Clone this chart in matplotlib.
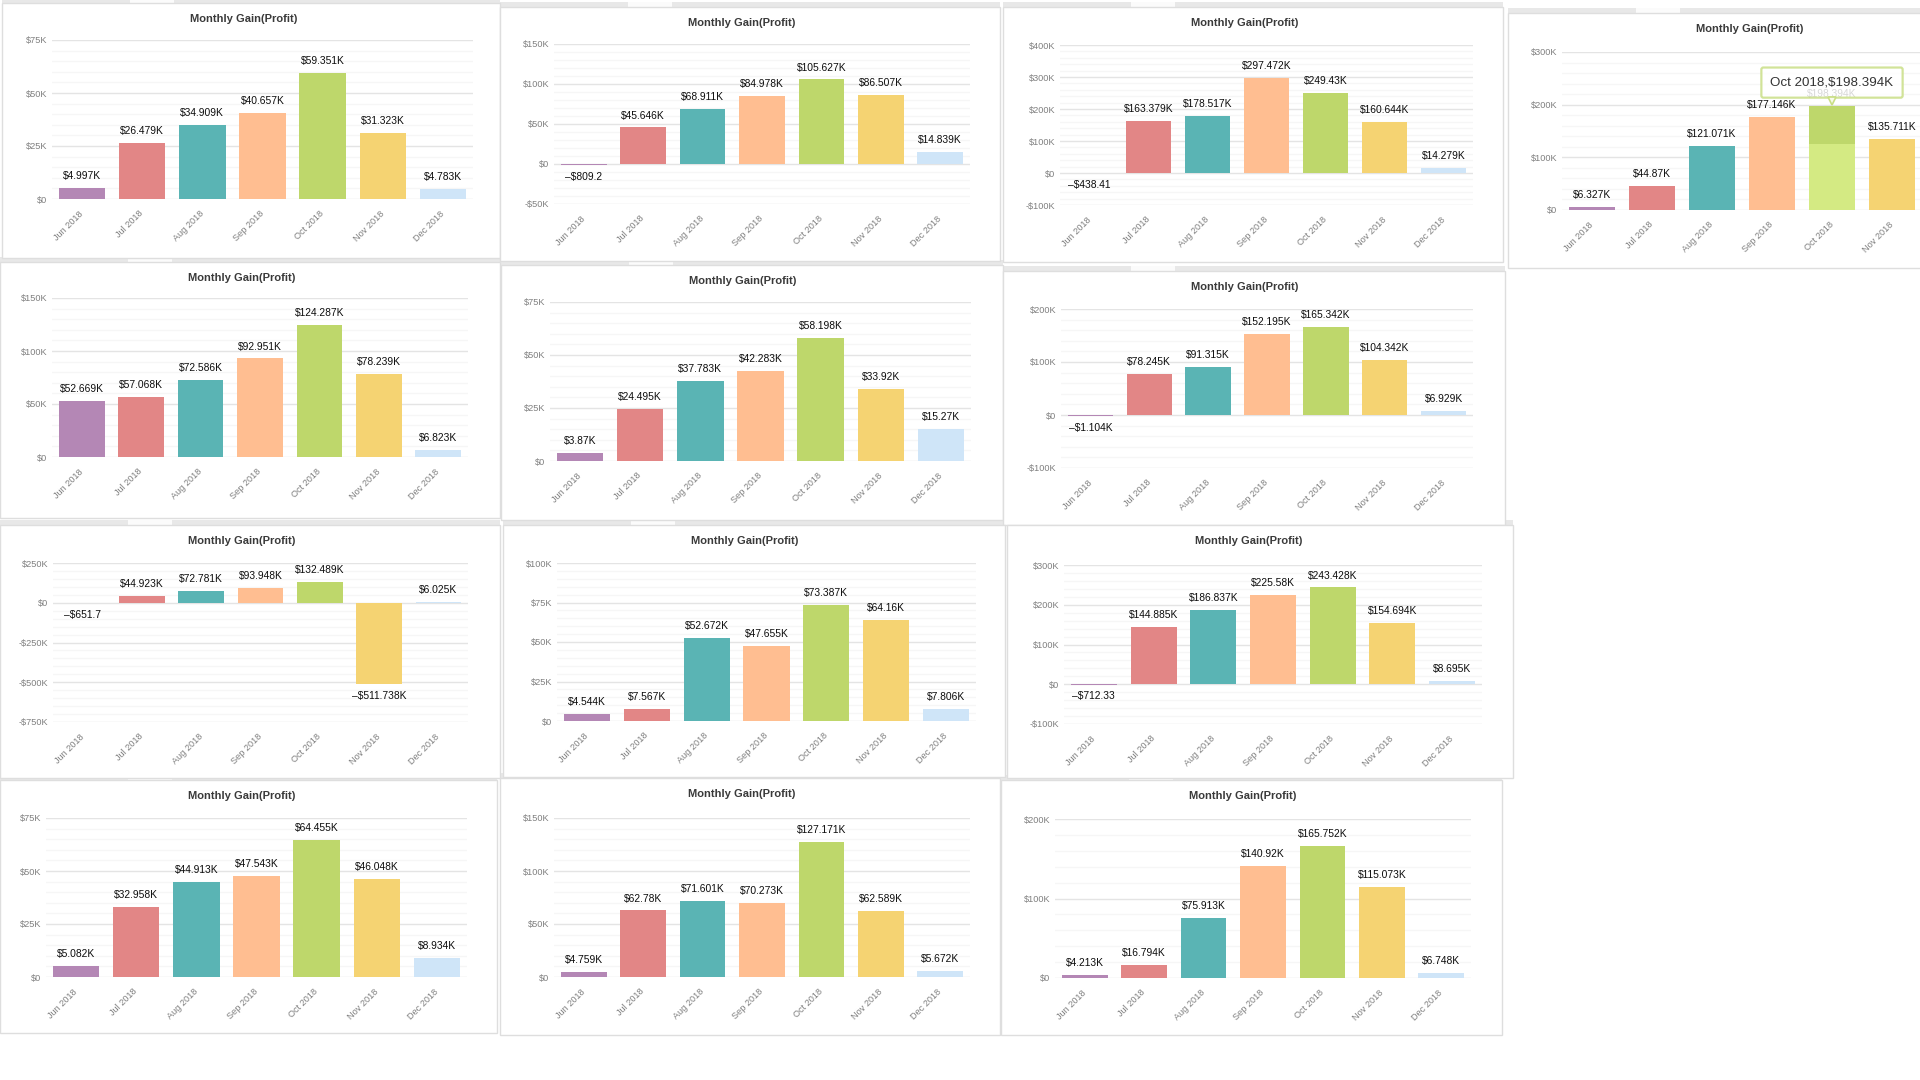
import matplotlib
matplotlib.use("Agg")
import matplotlib.pyplot as plt
from matplotlib.patches import Rectangle
import matplotlib.transforms as mtransforms

plt.rcParams['font.family'] = ['Liberation Sans', 'DejaVu Sans']

# ---------------- data ----------------
months = ["Jun 2018", "Jul 2018", "Aug 2018", "Sep 2018", "Oct 2018", "Nov 2018", "Dec 2018"]
bar_colors = ["#b487b5", "#e28686", "#5ab4b4", "#ffbe91", "#bed76b", "#f5d372", "#cfe5f8"]
chart_title = "Monthly Gain(Profit)"

p1_values = [4997, 26479, 34909, 40657, 59351, 31323, 4783]
p1_ticks = [0, 25000, 50000, 75000]
p2_values = [-809.2, 45646, 68911, 84978, 105627, 86507, 14839]
p2_ticks = [-50000, 0, 50000, 100000, 150000]
p3_values = [-438.41, 163379, 178517, 297472, 249430, 160644, 14279]
p3_ticks = [-100000, 0, 100000, 200000, 300000, 400000]
p4_values = [6327, 44870, 121071, 177146, 198394, 135711]   # Dec is cut off in the reference
p4_ticks = [0, 100000, 200000, 300000]
p5_values = [52669, 57068, 72586, 92951, 124287, 78239, 6823]
p5_ticks = [0, 50000, 100000, 150000]
p6_values = [3870, 24495, 37783, 42283, 58198, 33920, 15270]
p6_ticks = [0, 25000, 50000, 75000]
p7_values = [-1104, 78245, 91315, 152195, 165342, 104342, 6929]
p7_ticks = [-100000, 0, 100000, 200000]
p8_values = [-651.7, 44923, 72781, 93948, 132489, -511738, 6025]
p8_ticks = [-750000, -500000, -250000, 0, 250000]
p9_values = [4544, 7567, 52672, 47655, 73387, 64160, 7806]
p9_ticks = [0, 25000, 50000, 75000, 100000]
p10_values = [-712.33, 144885, 186837, 225580, 243428, 154694, 8695]
p10_ticks = [-100000, 0, 100000, 200000, 300000]
p11_values = [5082, 32958, 44913, 47543, 64455, 46048, 8934]
p11_ticks = [0, 25000, 50000, 75000]
p12_values = [4759, 62780, 71601, 70273, 127171, 62589, 5672]
p12_ticks = [0, 50000, 100000, 150000]
p13_values = [4213, 16794, 75913, 140920, 165752, 115073, 6748]
p13_ticks = [0, 100000, 200000]

tooltip_month = 4            # hovered bar in panel 4 (Oct 2018)
tooltip_hover_split = 125000 # lower part of the hovered bar is drawn in the highlight colour

# ---------------- layout (pixels, top-left origin) ----------------
W, H = 1920, 1080
# (panel box x0, y0, x1, y1), (plot area x0, y0, x1, y1)
layout = [
    ((2, 3, 500, 258), (52, 40, 473, 199)),
    ((500, 7, 1000, 261), (554, 44, 970, 204)),
    ((1003, 7, 1503, 262), (1060, 45, 1473, 205)),
    ((1508, 13, 2010, 268), (1562, 52, 1982, 210)),
    ((0, 262, 500, 518), (52, 298, 468, 457)),
    ((501, 265, 1003, 520), (550, 302, 971, 461)),
    ((1003, 271, 1505, 525), (1061, 309, 1473, 468)),
    ((0, 525, 500, 778), (53, 563, 468, 722)),
    ((503, 525, 1005, 777), (557, 563, 976, 721)),
    ((1007, 525, 1513, 778), (1064, 565, 1482, 724)),
    ((0, 780, 497, 1033), (46, 818, 467, 977)),
    ((500, 778, 1000, 1035), (554, 818, 970, 977)),
    ((1001, 780, 1502, 1035), (1055, 819, 1471, 978)),
]
panels = [
    (p1_values, p1_ticks), (p2_values, p2_ticks), (p3_values, p3_ticks), (p4_values, p4_ticks),
    (p5_values, p5_ticks), (p6_values, p6_ticks), (p7_values, p7_ticks),
    (p8_values, p8_ticks), (p9_values, p9_ticks), (p10_values, p10_ticks),
    (p11_values, p11_ticks), (p12_values, p12_ticks), (p13_values, p13_ticks),
]


def fmt_value(v):
    sign = "\u2013" if v < 0 else ""
    a = abs(v)
    if a >= 1000:
        s = f"{a / 1000:.3f}".rstrip("0").rstrip(".") + "K"
    else:
        s = f"{a:.2f}".rstrip("0").rstrip(".")
    return f"{sign}${s}"


def fmt_tick(t):
    if t == 0:
        return "$0"
    sign = "-" if t < 0 else ""
    return f"{sign}${abs(t) // 1000:.0f}K"


fig = plt.figure(figsize=(W / 100, H / 100), dpi=100)
fig.patch.set_facecolor("white")

bg = fig.add_axes([0, 0, 1, 1], zorder=-10)
bg.set_xlim(0, W)
bg.set_ylim(H, 0)
bg.axis("off")

# panel frames with the grey tab strip on top
for (bx0, by0, bx1, by1), _ in layout:
    bg.add_patch(Rectangle((bx0, by0 - 5), bx1 - bx0, 5, fc="#e8e8e8", ec="none"))
    bg.add_patch(Rectangle((bx0 + 128, by0 - 5), 44, 5, fc="#fbfbfb", ec="none"))
for (bx0, by0, bx1, by1), _ in layout:
    bg.add_patch(Rectangle((bx0, by0), bx1 - bx0, by1 - by0, fc="white", ec="#dedede", lw=1.0))
    bg.text(bx0 + 242, by0 + 16, chart_title, ha="center", va="center",
            fontsize=8, fontweight="bold", color="#3a3a3a")

axes = []
for idx, ((vals, ticks), (_, (px0, py0, px1, py1))) in enumerate(zip(panels, layout)):
    ax = fig.add_axes([px0 / W, 1 - py1 / H, (px1 - px0) / W, (py1 - py0) / H])
    axes.append(ax)
    ax.patch.set_visible(False)
    for s in ax.spines.values():
        s.set_visible(False)
    x = list(range(len(vals)))
    cols = bar_colors[:len(vals)]
    ax.bar(x, vals, width=0.77, color=cols, zorder=2)
    ax.set_xlim(-0.5, len(months) - 0.5)
    ymin, ymax = ticks[0], ticks[-1]
    ax.set_ylim(ymin, ymax)
    step = ticks[1] - ticks[0]
    ax.set_yticks(ticks)
    ax.set_yticklabels([fmt_tick(t) for t in ticks])
    minor = [ymin + k * step / 5 for k in range(int(round((ymax - ymin) / step * 5)) + 1)]
    ax.set_yticks(minor, minor=True)
    ax.grid(which="minor", axis="y", color="#f6f6f6", lw=1.0, zorder=0)
    ax.grid(which="major", axis="y", color="#e4e4e4", lw=1.0, zorder=0)
    ax.set_axisbelow(True)
    ax.set_xticks(range(len(months)))
    ax.set_xticklabels(months, rotation=45, ha="right", va="center", rotation_mode="anchor")
    ax.tick_params(axis="both", which="both", length=0, labelcolor="#7f7f7f", labelsize=6.6)
    ax.tick_params(axis="x", pad=9.5)
    ax.tick_params(axis="y", pad=3.5)
    for i, v in enumerate(vals):
        off = 5 if v >= 0 else -5
        ax.annotate(fmt_value(v), xy=(i, v), xytext=(0, off), textcoords="offset points",
                    ha="center", va="bottom" if v >= 0 else "top",
                    fontsize=7.4, color="#0d0d0d", zorder=3, annotation_clip=False)

# hovered bar + tooltip in panel 4
ax4 = axes[3]
hv = p4_values[tooltip_month]
ax4.bar([tooltip_month], [tooltip_hover_split], width=0.77, color="#d4ea83", zorder=2.5)
tip_text = f"{months[tooltip_month]},{fmt_value(hv)}"
ax4.annotate(tip_text, xy=(tooltip_month, hv), xytext=(0, 16.5), textcoords="offset points",
             ha="center", va="center", fontsize=9.6, color="#333333", zorder=6,
             annotation_clip=False,
             bbox=dict(boxstyle="round,pad=0.68,rounding_size=0.15", fc="white",
                       ec="#c9de85", lw=1.6, alpha=0.84))
# pointer triangle
ptr_tr = ax4.transData + mtransforms.ScaledTranslation(0, 3 / 72, fig.dpi_scale_trans)
ax4.plot([tooltip_month], [hv], marker="v", markersize=6, markerfacecolor="#f7faec",
         markeredgecolor="#c9de85", markeredgewidth=1.2,
         transform=ptr_tr, zorder=7, clip_on=False)

fig.savefig("out.png", dpi=100, facecolor="white")
